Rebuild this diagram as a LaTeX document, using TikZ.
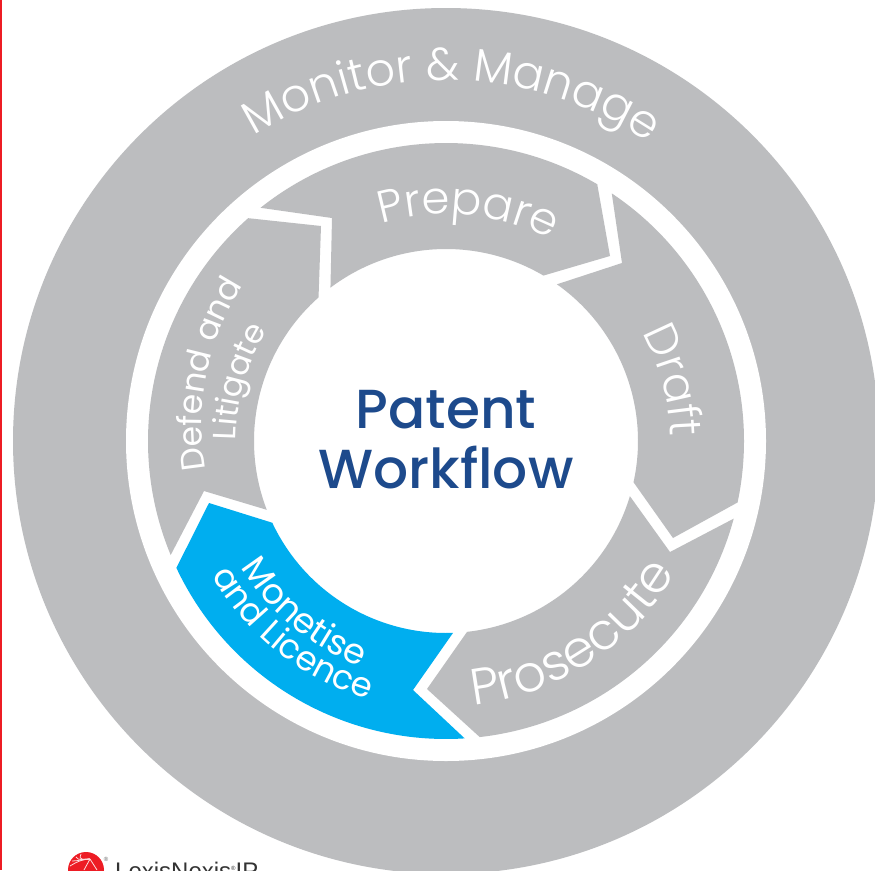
\documentclass[tikz,border=0pt]{standalone}
\usepackage{fontspec}
\usetikzlibrary{decorations.text,calc}
\newfontfamily\ringfont{Poppins Light}
\newfontfamily\smallringfont{Poppins}
\newfontfamily\titlefont{Poppins Medium}
\newfontfamily\logofont{Liberation Sans}
\definecolor{ringgray}{HTML}{BCBDBF}
\definecolor{segblue}{HTML}{00AEEF}
\definecolor{titleblue}{HTML}{1D4A8C}
\definecolor{edgered}{HTML}{ED1C24}
\tikzset{
  seggray/.style={fill=ringgray},
  segcyan/.style={fill=segblue},
  logoray/.style={draw=white!85!edgered,line width=0.8pt},
  titletext/.style={text=titleblue,font=\titlefont\fontsize{55}{60}\selectfont,align=center}
}
\newcommand{\arctext}[5]{%
  \path[decorate,decoration={text along path,text align=center,
    text={|\color{white}\ringfont\fontsize{#4}{#4}\selectfont|#5}}]
    (446,441)+(#1:#3) arc[start angle=#1,end angle=#2,radius=#3];}
\newcommand{\arctextb}[6][446,441]{%
  \path[decorate,decoration={text along path,text align=center,
    text={|\color{white}\smallringfont\fontsize{#5}{#5}\selectfont|#6}}]
    (#1)+(#2:#4) arc[start angle=#2,end angle=#3,radius=#4];}
\newcommand{\seg}[7]{%
  \path[#1] (446,441)+(#2:298) arc[start angle=#2,end angle=#3,radius=298] -- #4 -- ($(446,441)+(#5:192)$) arc[start angle=#5,end angle=#6,radius=192] -- #7 -- cycle;}
\begin{document}
\begin{tikzpicture}[x=1pt,y=-1pt]
\useasboundingbox (0,0) rectangle (875,870);
\clip (0,0) rectangle (875,870);
\fill[white] (0,0) rectangle (875,870);
\fill[edgered] (0,0) rectangle (2,870);
\fill[ringgray] (446,441) circle[radius=433];
\fill[white] (446,441) circle[radius=320];
\seg{seggray}{-128.5}{-59.5}{(610,256)}{-59.5}{-127}{(332,218)}
\seg{seggray}{-56.2}{11.9}{(673,538)}{12.4}{-54.7}{(622,263)}
\seg{seggray}{15.1}{83.5}{(427,689)}{83.7}{16.7}{(670,552)}
\seg{segcyan}{86.4}{154.8}{(209,503)}{154.8}{87.9}{(413,690)}
\seg{seggray}{157.5}{228.4}{(321,226)}{228.4}{159}{(204,491)}
\arctext{-122}{-56}{361}{46}{Monitor {\&} Manage}
\arctext{-107}{-62}{227}{45}{Prepare}
\arctext{-30}{0}{224}{45}{Draft}
\arctext{84}{30}{265}{51}{Prosecute}
\arctextb{150}{109}{241}{35}{Monetise}
\arctextb{151}{106}{270}{34}{and Licence}
\arctextb[459,425]{171}{212}{257}{33}{Defend and}
\arctextb{178}{214}{210}{32}{Litigate}
\node[titletext] (title) at (446,440) {Patent\\Workflow};
\fill[edgered] (86,870) circle[radius=18];
\foreach \ex/\ey in {70/866,72/861,76/857,81/854}
  \draw[logoray] (90,859) .. controls (84,859) and (78,861) .. (\ex,\ey);
\draw[logoray] (90,859) -- (84,870);
\draw[logoray] (90,859) -- (97,870);
\node[anchor=center,inner sep=0pt,font=\logofont\fontsize{6}{6}\selectfont,text=black!60] (logomark) at (106,859) {®};
\node[anchor=base west,inner sep=0pt,font=\logofont\fontsize{24}{24}\selectfont,text=black!80] (logo) at (115,879) {LexisNexis\raisebox{9pt}{\fontsize{6}{6}\selectfont ®}IP};
\end{tikzpicture}
\end{document}
